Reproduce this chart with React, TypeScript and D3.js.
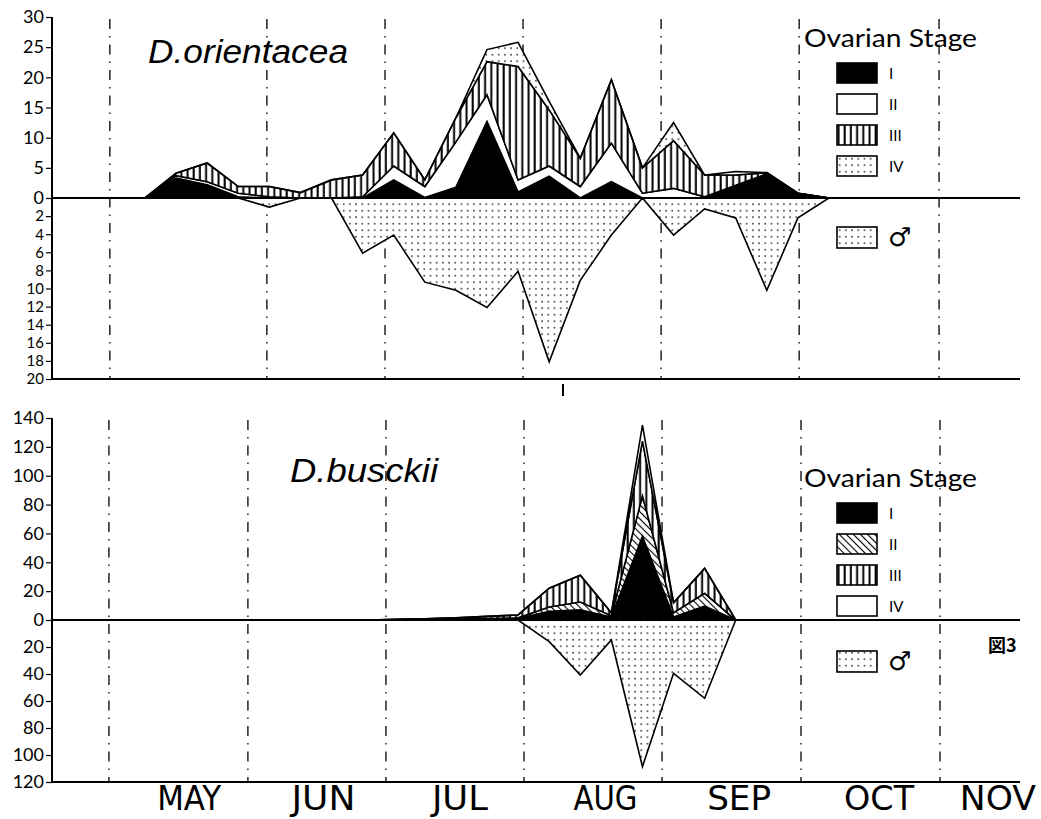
import React, { useRef, useEffect } from 'react';
import * as d3 from 'd3';

// sampling occasions (roughly weekly), indexed 0..22
const sampleCount = 23;
const stageKeys = ['I', 'II', 'III', 'IV'];

// D. orientacea - females per ovarian stage, and males
const oriStageI = [0, 3.3, 2.2, 0.2, 0, 0, 0, 0, 3.0, 0.1, 1.8, 12.7, 1.0, 3.6, 0, 2.7, 0, 0, 0, 1.9, 4.0, 0.8, 0];
const oriStageII = [0, 0.4, 0.5, 0.6, 0.2, 0, 0, 0.2, 2.3, 1.8, 7.5, 4.4, 2.0, 1.7, 1.9, 6.4, 0.8, 1.6, 0.2, 0.2, 0, 0, 0];
const oriStageIII = [0, 0.4, 3.1, 1.1, 1.7, 0.9, 3.0, 3.6, 5.5, 1.1, 4.0, 5.5, 18.8, 9.3, 4.7, 10.5, 4.2, 7.9, 3.6, 1.7, 0.2, 0, 0];
const oriStageIV = [0, 0, 0, 0, 0, 0, 0, 0, 0, 0, 0, 2.0, 4.0, 1.4, 0, 0, 0, 3.0, 0, 0.6, 0, 0, 0];
const oriMales = [0, 0, 0, 0, 1.0, 0, 0, 6.1, 4.1, 9.3, 10.2, 12.1, 8.1, 18.1, 9.1, 4.1, 0, 4.1, 1.2, 2.2, 10.2, 2.2, 0];

// D. busckii - females per ovarian stage, and males
const busStageI = [0, 0, 0, 0, 0, 0, 0, 0, 0.3, 0.8, 1, 1, 1, 6, 7, 2, 58, 2, 9.7, 0, 0, 0, 0];
const busStageII = [0, 0, 0, 0, 0, 0, 0, 0, 0, 0, 0, 0, 0.5, 3, 5.5, 1, 28, 3, 8.8, 0, 0, 0, 0];
const busStageIII = [0, 0, 0, 0, 0, 0, 0, 0, 0, 0, 0.5, 1.5, 2, 13, 18.5, 2, 38, 7, 17.3, 0, 0, 0, 0];
const busStageIV = [0, 0, 0, 0, 0, 0, 0, 0, 0, 0, 0, 0, 0, 0, 0, 0, 11, 0, 0, 0, 0, 0, 0];
const busMales = [0, 0, 0, 0, 0, 0, 0, 0, 0, 0, 0, 0, 0, 16, 40.7, 14.8, 108.6, 39.5, 58, 0, 0, 0, 0];

// month boundaries / label centres, in sampling-index units
const monthNames = ['MAY', 'JUN', 'JUL', 'AUG', 'SEP', 'OCT', 'NOV'];
const monthEdgesOri = [-1.13, 3.92, 7.72, 12.16, 16.6, 21.04, 25.54];
const monthEdgesBus = [-1.16, 3.31, 7.75, 12.19, 16.63, 21.1, 25.57];
const monthCentres = [1.42, 5.74, 10.13, 14.81, 19.11, 23.61, 27.43];

const oriUpperTicks = [0, 5, 10, 15, 20, 25, 30];
const oriLowerTicks = [2, 4, 6, 8, 10, 12, 14, 16, 18, 20];
const busUpperTicks = [0, 20, 40, 60, 80, 100, 120, 140];
const busLowerTicks = [20, 40, 60, 80, 100, 120];

const W = 1041;
const H = 819;
const plotLeft = 52;
const plotRight = 1020;

const x = d3.scaleLinear().domain([0, 22]).range([145, 829]);

const oriUp = d3.scaleLinear().domain([0, 30]).range([198, 17]);
const oriDown = d3.scaleLinear().domain([0, 20]).range([198, 379]);
const busUp = d3.scaleLinear().domain([0, 140]).range([620, 418]);
const busDown = d3.scaleLinear().domain([0, 120]).range([620, 782]);

const tickFont = 'Lato, "Open Sans", sans-serif';

function AxisLeft({ scale, ticks, size = 18 }) {
  const ref = useRef(null);
  useEffect(() => {
    const g = d3.select(ref.current);
    g.selectAll('*').remove();
    g.call(d3.axisLeft(scale).tickValues(ticks).tickSize(6).tickPadding(2).tickFormat(d3.format('d')));
    g.select('.domain').remove();
    g.selectAll('line').attr('stroke', '#000').attr('stroke-width', 1.2);
    g.selectAll('text')
      .attr('font-family', tickFont)
      .attr('font-size', size)
      .attr('fill', '#000');
  }, [scale, ticks, size]);
  return <g ref={ref} transform={`translate(${plotLeft},0)`} />;
}

function Panel({ stages, males, up, down, edges, fills, title, titleX, titleY, titleW }) {
  const rows = d3.range(sampleCount).map(i => {
    const r = {};
    stageKeys.forEach((k, j) => { r[k] = stages[j][i]; });
    return r;
  });
  const series = d3.stack().keys(stageKeys)(rows);
  const band = d3.area()
    .x((_, i) => x(i))
    .y0(d => up(d[0]))
    .y1(d => up(d[1]));
  const maleArea = d3.area()
    .x((_, i) => x(i))
    .y0(down(0))
    .y1(d => down(d));

  const yTop = up.range()[1];
  const yBottom = down.range()[1];
  const zero = up(0);

  return (
    <g>
      {edges.map((e, i) => (
        <line key={i} x1={x(e)} x2={x(e)} y1={yTop + 2} y2={yBottom}
          stroke="#000" strokeWidth={1.3} strokeDasharray="10,7,1.5,7" />
      ))}
      <path d={maleArea(males)} fill="url(#dots)" stroke="#000" strokeWidth={1.6} strokeLinejoin="miter" />
      {series.map((s, j) => (
        <path key={stageKeys[j]} d={band(s)} fill={fills[j]} stroke="#000" strokeWidth={1.6} strokeLinejoin="miter" />
      ))}
      <line x1={plotLeft} x2={plotRight} y1={zero} y2={zero} stroke="#000" strokeWidth={1.8} />
      <line x1={plotLeft} x2={plotRight} y1={yBottom} y2={yBottom} stroke="#000" strokeWidth={2} />
      <line x1={plotLeft} x2={plotLeft} y1={yTop} y2={yBottom} stroke="#000" strokeWidth={2} />
      <text x={titleX} y={titleY} fontFamily='"Liberation Sans", Arial, sans-serif' fontStyle="italic"
        fontSize={34} textLength={titleW} lengthAdjust="spacingAndGlyphs">{title}</text>
    </g>
  );
}

function Legend({ fills, top, maleY }) {
  const boxX = 837;
  const labels = ['I', 'II', 'III', 'IV'];
  return (
    <g>
      <text x={804} y={top} fontFamily={tickFont} fontSize={25} textLength={173} lengthAdjust="spacingAndGlyphs">Ovarian Stage</text>
      {labels.map((l, i) => {
        const y = top + 16 + i * 31;
        return (
          <g key={l}>
            <rect x={boxX} y={y} width={40} height={20} fill={fills[i]} stroke="#000" strokeWidth={1.6} />
            <text x={889} y={y + 16} fontFamily={tickFont} fontSize={15}>{l}</text>
          </g>
        );
      })}
      <rect x={boxX} y={maleY} width={40} height={21} fill="url(#dots)" stroke="#000" strokeWidth={1.6} />
      <text x={888} y={maleY + 19} fontFamily='"DejaVu Sans", sans-serif' fontSize={26}>♂</text>
    </g>
  );
}

export default function App() {
  const oriFills = ['#000', '#fff', 'url(#stripes)', 'url(#dots)'];
  const busFills = ['#000', 'url(#hatch)', 'url(#stripes)', '#fff'];
  return (
    <svg width={W} height={H} style={{ position: 'absolute', left: 0, top: 0, background: '#fff' }}>
      <defs>
        <pattern id="stripes" width={6.2} height={10} patternUnits="userSpaceOnUse">
          <rect width={6.2} height={10} fill="#fff" />
          <rect x={0.5} width={2} height={10} fill="#000" />
        </pattern>
        <pattern id="dots" width={6.2} height={6.5} patternUnits="userSpaceOnUse">
          <rect width={6.2} height={6.5} fill="#fff" />
          <rect x={2} y={2} width={1.4} height={1.4} fill="#000" />
        </pattern>
        <pattern id="hatch" width={5} height={5} patternUnits="userSpaceOnUse" patternTransform="rotate(-45)">
          <rect width={5} height={5} fill="#fff" />
          <rect width={1.1} height={5} fill="#000" />
        </pattern>
      </defs>

      <rect width={W} height={H} fill="#fff" />

      <Panel stages={[oriStageI, oriStageII, oriStageIII, oriStageIV]} males={oriMales}
        up={oriUp} down={oriDown} edges={monthEdgesOri} fills={oriFills}
        title="D.orientacea" titleX={148} titleY={63} titleW={200} />
      <AxisLeft scale={oriUp} ticks={oriUpperTicks} />
      <AxisLeft scale={oriDown} ticks={oriLowerTicks} size={15} />
      <Legend fills={oriFills} top={47} maleY={227} />

      <Panel stages={[busStageI, busStageII, busStageIII, busStageIV]} males={busMales}
        up={busUp} down={busDown} edges={monthEdgesBus} fills={busFills}
        title="D.busckii" titleX={290} titleY={482} titleW={148} />
      <AxisLeft scale={busUp} ticks={busUpperTicks} />
      <AxisLeft scale={busDown} ticks={busLowerTicks} />
      <Legend fills={busFills} top={487} maleY={651} />

      {/* stray mark under the upper panel */}
      <line x1={563} x2={563} y1={384} y2={396} stroke="#000" strokeWidth={2} />

      {monthNames.map((m, i) => (
        <text key={m} x={x(monthCentres[i])} y={810} textAnchor="middle"
          fontFamily='"Liberation Sans Narrow", "DejaVu Sans Condensed", "Liberation Sans", sans-serif'
          fontSize={33} textLength={m === 'NOV' ? 76 : m === 'JUL' ? 56 : m === 'OCT' ? 70 : 64}
          lengthAdjust="spacingAndGlyphs">{m}</text>
      ))}

      <text x={988} y={652} fontFamily='"Noto Sans CJK JP", sans-serif' fontWeight="bold" fontSize={18}>図3</text>
    </svg>
  );
}
